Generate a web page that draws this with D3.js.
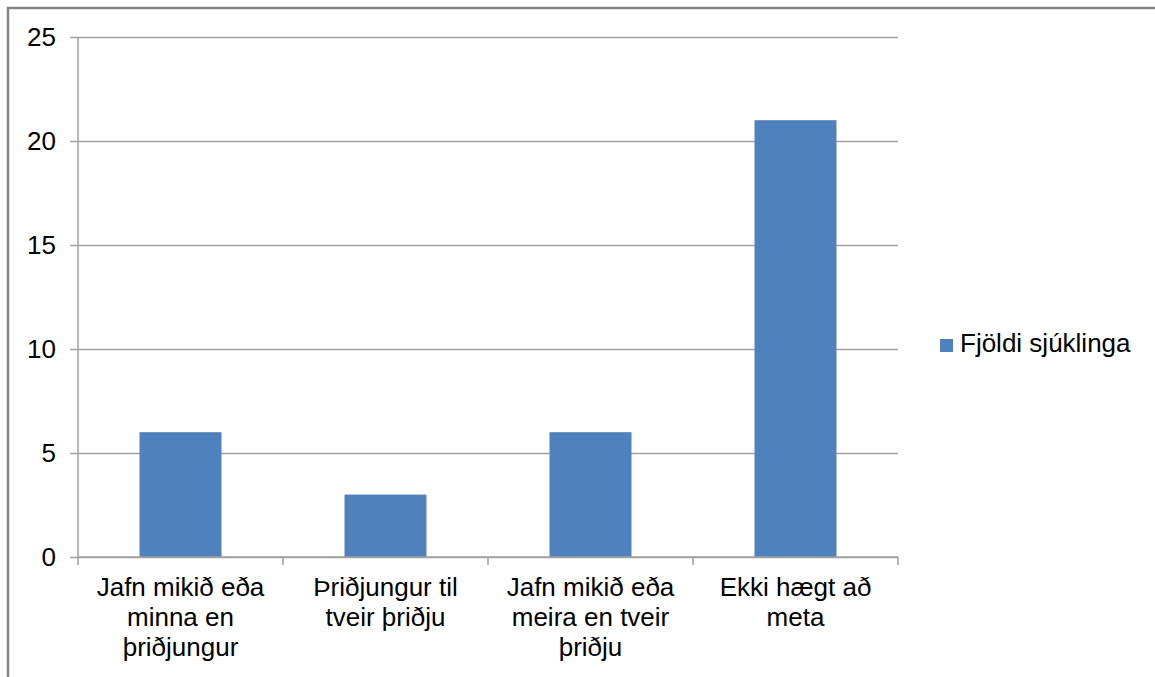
<!DOCTYPE html>
<html>
<head>
<meta charset="utf-8">
<script src="https://cdn.jsdelivr.net/npm/d3@7"></script>
<style>
  html, body { margin: 0; padding: 0; background: #fff; }
  svg text { font-family: "Liberation Sans", Arial, sans-serif; fill: #000; }
</style>
</head>
<body>
<svg id="chart" width="1155" height="677"></svg>
<script>
// chart data
var categories = ["Jafn mikið eða minna en þriðjungur", "Þriðjungur til tveir þriðju", "Jafn mikið eða meira en tveir þriðju", "Ekki hægt að meta"];
var values = [6, 3, 6, 21];
var seriesName = "Fjöldi sjúklinga";
var yTicks = [0, 5, 10, 15, 20, 25];

var svg = d3.select("#chart");
var plotL = 78, plotR = 898, plotT = 37, plotB = 557;
var fontSize = 26;

// outer frame (only top & left visible in the picture)
svg.append("rect")
    .attr("x", 8).attr("y", 8)
    .attr("width", 1170).attr("height", 700)
    .attr("fill", "none")
    .attr("stroke", "#868686")
    .attr("stroke-width", 2.5);

var y = d3.scaleLinear().domain([0, 25]).range([plotB, plotT]);
var xBand = d3.scaleBand().domain(categories).range([plotL, plotR]).padding(0);
var xBar = d3.scaleBand().domain(categories).range([plotL, plotR]).paddingInner(0.6).paddingOuter(0.3);

// gridlines + y axis
var yAxis = d3.axisLeft(y).tickValues(yTicks).tickSize(-(plotR - plotL)).tickPadding(22).tickFormat(d3.format("d"));
var gy = svg.append("g").attr("transform", "translate(" + plotL + ",0)").call(yAxis);
gy.select(".domain").remove();
gy.selectAll(".tick line")
    .attr("x1", -8)
    .attr("stroke", "#a0a0a0")
    .attr("stroke-width", 1.5);
gy.selectAll(".tick text")
    .attr("font-size", fontSize)
    .style("font-family", "'Liberation Sans', Arial, sans-serif")
    .attr("fill", "#000");

// y axis line
svg.append("line")
    .attr("x1", plotL).attr("x2", plotL)
    .attr("y1", plotT).attr("y2", plotB)
    .attr("stroke", "#a0a0a0").attr("stroke-width", 1.5);

// bars
svg.selectAll("rect.bar").data(values).enter().append("rect")
    .attr("class", "bar")
    .attr("x", function(d, i){ return xBar(categories[i]); })
    .attr("width", xBar.bandwidth())
    .attr("y", function(d){ return y(d); })
    .attr("height", function(d){ return y(0) - y(d); })
    .attr("fill", "#4f81bd");

// x axis line & boundary ticks
svg.append("line")
    .attr("x1", plotL).attr("x2", plotR)
    .attr("y1", plotB).attr("y2", plotB)
    .attr("stroke", "#a0a0a0").attr("stroke-width", 1.5);
var bounds = categories.map(function(c){ return xBand(c); }).concat([plotR]);
svg.selectAll("line.xtick").data(bounds).enter().append("line")
    .attr("class", "xtick")
    .attr("x1", function(d){ return d; }).attr("x2", function(d){ return d; })
    .attr("y1", plotB).attr("y2", plotB + 8)
    .attr("stroke", "#a0a0a0").attr("stroke-width", 1.5);

// category labels, wrapped
var labels = svg.selectAll("text.cat").data(categories).enter().append("text")
    .attr("class", "cat")
    .attr("text-anchor", "middle")
    .attr("font-size", fontSize)
    .attr("x", function(d){ return xBand(d) + xBand.bandwidth() / 2; })
    .attr("y", 596);

labels.each(function(d){
    var t = d3.select(this);
    var cx = +t.attr("x");
    var words = d.split(" ");
    var lines = [], line = [];
    var probe = t.append("tspan");
    words.forEach(function(w){
        line.push(w);
        probe.text(line.join(" "));
        if (probe.node().getComputedTextLength() > 185 && line.length > 1) {
            line.pop();
            lines.push(line.join(" "));
            line = [w];
        }
    });
    lines.push(line.join(" "));
    probe.remove();
    lines.forEach(function(l, i){
        t.append("tspan").attr("x", cx).attr("dy", i === 0 ? 0 : 30).text(l);
    });
});

// legend
svg.append("rect")
    .attr("x", 940).attr("y", 339)
    .attr("width", 13).attr("height", 13)
    .attr("fill", "#4f81bd");
svg.append("text")
    .attr("x", 960).attr("y", 352)
    .attr("font-size", fontSize)
    .text(seriesName);
</script>
</body>
</html>
